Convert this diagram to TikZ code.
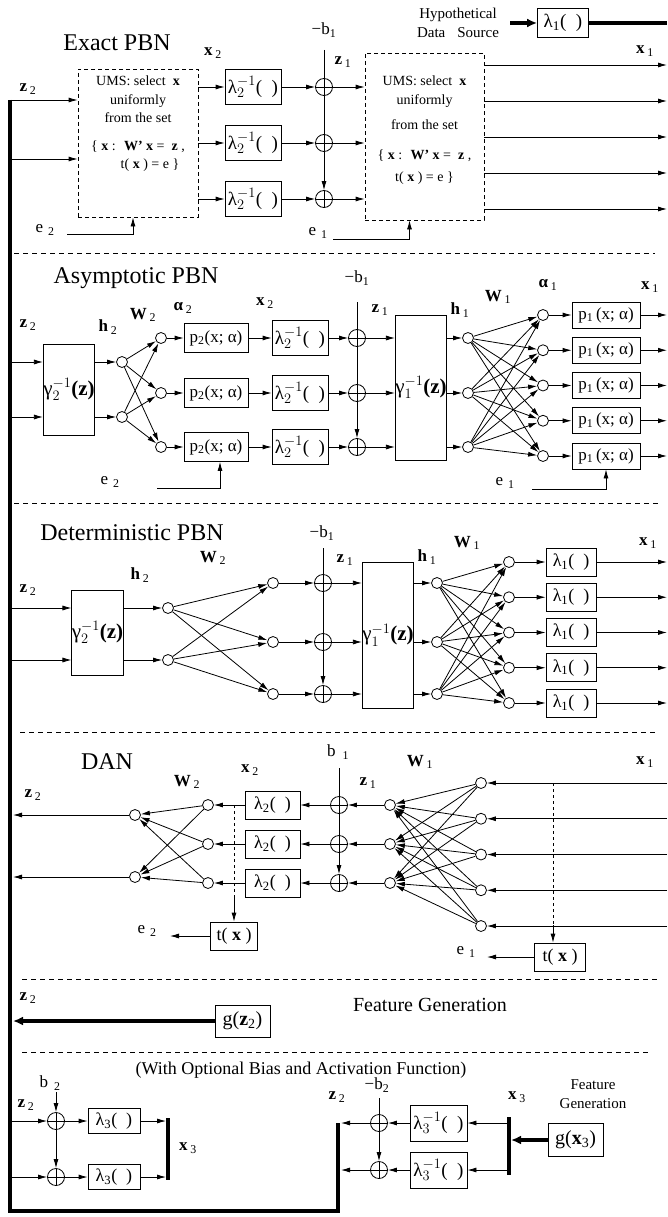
\documentclass[tikz,border=0pt]{standalone}
\usepackage{fontspec}
\setmainfont{Liberation Serif}
\usetikzlibrary{arrows.meta,calc,positioning}
\newcommand\fsz[1]{\fontsize{#1}{#1}\selectfont}
\newcommand\bsub[2]{\textbf{#1}\,\textsubscript{#2}}
\newcommand\inv[2]{$\mbox{#1}^{-1}_{#2}$}
\newcommand\gap[2]{#1\hspace{5pt}\textsubscript{#2}}
\tikzset{
  funcbox/.style={draw,line width=0.8pt,inner sep=0pt,font=\fsz{19}},
  umsbox/.style={draw,line width=0.8pt,dash pattern=on 4pt off 3pt},
  umstext/.style={anchor=north,inner sep=0pt,align=center,font=\fontsize{14}{18.5}\selectfont},
  adder/.style={circle,draw,line width=0.8pt,minimum size=17pt,inner sep=0pt,
    path picture={\draw[line width=0.8pt] (path picture bounding box.west) -- (path picture bounding box.east)
      (path picture bounding box.north) -- (path picture bounding box.south);}},
  unit/.style={circle,draw,line width=0.8pt,minimum size=11pt,inner sep=0pt},
  arrow/.style={-{Latex[length=9pt,width=5pt]},line width=0.8pt},
  heavyarrow/.style={-{Latex[length=10pt,width=9pt]},line width=4pt},
  heavy/.style={line width=4pt},
  bus/.style={line width=4.5pt,line join=miter},
  divider/.style={line width=0.7pt,dash pattern=on 5pt off 4pt},
  ttl/.style={font=\fsz{24}},
  lab/.style={font=\fsz{17}},
  note/.style={align=center,font=\fontsize{15}{19}\selectfont}
}
\begin{document}
\begin{tikzpicture}[x=1pt,y=-1pt,
    lam/.style={funcbox,minimum width=56pt,minimum height=35pt},
    pbox/.style={funcbox,minimum width=64pt,minimum height=29pt,font=\fsz{17}},
    gbox/.style={funcbox,minimum width=46pt,font=\fsz{21}},
    small/.style={funcbox,minimum width=50pt,minimum height=28pt,font=\fsz{18}}
  ]
  \useasboundingbox (0,0) rectangle (667,1217);
  \coordinate (barT) at (10,100);
  \coordinate (barB) at (10,1211);
  \coordinate (barC) at (338,1211);
  \coordinate (barE) at (338,1123);
  \draw[bus] (barT) -- (barB) -- (barC) -- (barE);

  \node[ttl] at (117,43) {Exact PBN};
  \node[lab] at (28,89) {\bsub{z}{2}};
  \node[lab] at (213,53) {\bsub{x}{2}};
  \node[lab] at (324,30) {−b\textsubscript{1}};
  \node[lab] at (343,62) {\bsub{z}{1}};
  \node[lab] at (645,51) {\bsub{x}{1}};
  \node[umsbox,minimum width=120pt,minimum height=148pt] (ums1) at (138,143) {};
  \node[umstext] at (138,76) {UMS: select \ \textbf{x}\\uniformly\\from the set\\[9pt]\{ \textbf{x} : \ \textbf{W’} \textbf{x} = \ \textbf{z} ,\\\hspace*{24pt}t( \textbf{x} ) = e \}};
  \node[umsbox,minimum width=119pt,minimum height=167pt] (ums2) at (424.5,136.5) {};
  \node[umstext] at (424.5,76) {UMS: select \ \textbf{x}\\uniformly\\[7pt]from the set\\[11pt]\{ \textbf{x} : \ \textbf{W’} \textbf{x} = \ \textbf{z} ,\\[4pt]t( \textbf{x} ) = e \}};
  \coordinate (z2a) at (10,100);
  \coordinate (z2b) at (10,159);
  \draw[arrow] (z2a) -- (z2a -| ums1.west);
  \draw[arrow] (z2b) -- (z2b -| ums1.west);
  \foreach \r [count=\i] in {87,143,199} {
    \node[lam] (lt\i) at (253,\r) {\inv{λ}{2}(\ \ )};
    \node[adder] (at\i) at (324,\r) {};
    \draw[arrow] (ums1.east |- lt\i) -- (lt\i);
    \draw[arrow] (lt\i) -- (at\i);
    \draw[arrow] (at\i) -- (at\i -| ums2.west);
  }
  \coordinate (bt) at (324,50);
  \draw[arrow] (bt) -- (at3);
  \foreach \r [count=\k] in {65,101,137,173,209} {
    \coordinate (ot\k) at (667,\r);
    \draw[arrow] (ums2.east |- ot\k) -- (ot\k);
  }
  \node[lab] at (45,230) {\gap{e}{2}};
  \coordinate (e2t) at (67,234);
  \draw[arrow] (e2t) -| ($(ums1.south)+(-5,0)$);
  \node[lab] at (318,233) {\gap{e}{1}};
  \coordinate (e1t) at (333,239);
  \draw[arrow] (e1t) -| ($(ums2.south)+(-15,0)$);
  \node[note] (hyp) at (458,23) {Hypothetical\\Data\hspace{12pt}Source};
  \node[funcbox,minimum width=51pt,minimum height=29pt] (src) at (563,23) {λ\textsubscript{1}(\ \ )};
  \coordinate (hs) at (510,23);
  \coordinate (hout) at (667,23);
  \draw[heavyarrow] (hs) -- (src);
  \draw[heavy] (src) -- (hout);
  \draw[divider] (14,253) -- (655,253);

  \node[ttl] at (136,278) {Asymptotic PBN};
  \node[lab] at (28,325) {\bsub{z}{2}};
  \node[lab] at (108,327) {\bsub{h}{2}};
  \node[lab] at (143,315) {\bsub{W}{2}};
  \node[lab] at (183,308) {\bsub{α}{2}};
  \node[lab] at (265,303) {\bsub{x}{2}};
  \node[lab] at (357,278) {−b\textsubscript{1}};
  \node[lab] at (380,310) {\bsub{z}{1}};
  \node[lab] at (460,310) {\bsub{h}{1}};
  \node[lab] at (498,297) {\bsub{W}{1}};
  \node[lab] at (548,285) {\bsub{α}{1}};
  \node[lab] at (650,287) {\bsub{x}{1}};
  \node[gbox,minimum height=91pt] (ga2) at (69,389.5) {\inv{γ}{2}\textbf{(z)}};
  \node[gbox,minimum height=145pt] (ga1) at (421,387.5) {\inv{γ}{1}\textbf{(z)}};
  \foreach \y [count=\i] in {362,417} {
    \coordinate (za\i) at (10,\y);
    \node[unit] (ha\i) at (122,\y) {};
    \draw[arrow] (za\i) -- (za\i -| ga2.west);
    \draw[arrow] (ga2.east |- ha\i) -- (ha\i);
  }
  \foreach \r [count=\j] in {338,393,447} {
    \node[unit] (wa\j) at (161,\r) {};
    \node[pbox] (pa\j) at (216,\r) {p\textsubscript{2}(x; α)};
    \node[lam] (la\j) at (300,\r) {\inv{λ}{2}(\ \ )};
    \node[adder] (aa\j) at (357,\r) {};
    \node[unit] (hb\j) at (468,\r) {};
    \draw[arrow] (wa\j) -- (pa\j);
    \draw[arrow] (pa\j) -- (la\j);
    \draw[arrow] (la\j) -- (aa\j);
    \draw[arrow] (aa\j) -- (aa\j -| ga1.west);
    \draw[arrow] (ga1.east |- hb\j) -- (hb\j);
    \foreach \i in {1,2} \draw[arrow] (ha\i) -- (wa\j);
  }
  \coordinate (ba) at (357,302);
  \draw[arrow] (ba) -- (aa3);
  \foreach \k in {1,...,5} {
    \pgfmathsetmacro\r{315+35.25*(\k-1)}
    \node[unit] (wb\k) at (543,\r) {};
    \node[pbox,minimum width=68pt,minimum height=26pt] (pb\k) at (606,\r) {p\textsubscript{1}\,(x; α)};
    \coordinate (ob\k) at (667,\r);
    \draw[arrow] (wb\k) -- (pb\k);
    \draw[arrow] (pb\k) -- (ob\k);
    \foreach \j in {1,2,3} \draw[arrow] (hb\j) -- (wb\k);
  }
  \node[lab] at (110,482) {\gap{e}{2}};
  \coordinate (e2a) at (157,488);
  \draw[arrow] (e2a) -| ($(pa3.south)+(4,0)$);
  \node[lab] at (505,483) {\gap{e}{1}};
  \coordinate (e1a) at (532,489);
  \draw[arrow] (e1a) -| (pb5.south);
  \draw[divider] (14,503) -- (658,503);

  \node[ttl] at (132,533) {Deterministic PBN};
  \node[lab] at (322,533) {−b\textsubscript{1}};
  \node[lab] at (213,558) {\bsub{W}{2}};
  \node[lab] at (140,575) {\bsub{h}{2}};
  \node[lab] at (28,590) {\bsub{z}{2}};
  \node[lab] at (345,560) {\bsub{z}{1}};
  \node[lab] at (427,557) {\bsub{h}{1}};
  \node[lab] at (467,543) {\bsub{W}{1}};
  \node[lab] at (648,543) {\bsub{x}{1}};
  \node[gbox,minimum width=47pt,minimum height=85pt] (gd2) at (97.5,632.5) {\inv{γ}{2}\textbf{(z)}};
  \node[gbox,minimum width=48pt,minimum height=146pt] (gd1) at (388,635) {\inv{γ}{1}\textbf{(z)}};
  \foreach \y [count=\i] in {608,660} {
    \coordinate (zd\i) at (10,\y);
    \node[unit] (hd\i) at (168,\y) {};
    \draw[arrow] (zd\i) -- (zd\i -| gd2.west);
    \draw[arrow] (gd2.east |- hd\i) -- (hd\i);
  }
  \foreach \r [count=\j] in {583,642,694} {
    \node[unit] (wd\j) at (273,\r) {};
    \node[adder] (ad\j) at (323,\r) {};
    \node[unit] (he\j) at (437,\r) {};
    \draw[arrow] (wd\j) -- (ad\j);
    \draw[arrow] (ad\j) -- (ad\j -| gd1.west);
    \draw[arrow] (gd1.east |- he\j) -- (he\j);
    \foreach \i in {1,2} \draw[arrow] (hd\i) -- (wd\j);
  }
  \coordinate (bd) at (323,548);
  \draw[arrow] (bd) -- (ad3);
  \foreach \k in {1,...,5} {
    \pgfmathsetmacro\r{562+35.25*(\k-1)}
    \node[unit] (we\k) at (509,\r) {};
    \node[small] (ld\k) at (571,\r) {λ\textsubscript{1}(\ \ )};
    \coordinate (od\k) at (667,\r);
    \draw[arrow] (we\k) -- (ld\k);
    \draw[arrow] (ld\k) -- (od\k);
    \foreach \j in {1,2,3} \draw[arrow] (he\j) -- (we\k);
  }
  \draw[divider] (20,732) -- (655,732);

  \node[ttl] at (107,762) {DAN};
  \node[lab] at (338,752) {b\hspace{7pt}\textsubscript{1}};
  \node[lab] at (187,782) {\bsub{W}{2}};
  \node[lab] at (250,770) {\bsub{x}{2}};
  \node[lab] at (33,795) {\bsub{z}{2}};
  \node[lab] at (420,762) {\bsub{W}{1}};
  \node[lab] at (368,783) {\bsub{z}{1}};
  \node[lab] at (645,762) {\bsub{x}{1}};
  \foreach \r [count=\j] in {805,844,883} {
    \node[adder] (an\j) at (339,\r) {};
    \node[unit] (zn\j) at (390,\r) {};
    \node[small,minimum width=55pt] (ln\j) at (272.5,\r) {λ\textsubscript{2}(\ \ )};
    \node[unit] (cn\j) at (208,\r) {};
    \draw[arrow] (zn\j) -- (an\j);
    \draw[arrow] (an\j) -- (ln\j);
    \draw[arrow] (ln\j) -- (cn\j);
  }
  \coordinate (bn) at (339,768);
  \draw[arrow] (bn) -- (an3);
  \foreach \y [count=\i] in {815,877} {
    \node[unit] (dn\i) at (135,\y) {};
    \coordinate (zo\i) at (13,\y);
    \draw[arrow] (dn\i) -- (zo\i);
    \foreach \j in {1,2,3} \draw[arrow] (cn\j) -- (dn\i);
  }
  \foreach \k in {1,...,5} {
    \pgfmathsetmacro\r{783+35.75*(\k-1)}
    \node[unit] (rn\k) at (481,\r) {};
    \coordinate (xn\k) at (667,\r);
    \draw[arrow] (xn\k) -- (rn\k);
    \foreach \j in {1,2,3} \draw[arrow] (rn\k) -- (zn\j);
  }
  \coordinate (tap2) at (234,805);
  \coordinate (tap2b) at (234,897);
  \node[small,minimum width=47pt] (tx2) at (234,936) {t( \textbf{x} )};
  \draw[dashed] (tap2) -- (tap2b);
  \draw[arrow] (tap2b) -- (tx2);
  \node[lab] at (147,931) {\gap{e}{2}};
  \coordinate (e2n) at (170,936);
  \draw[arrow] (tx2) -- (e2n);
  \coordinate (tap1) at (553,783);
  \coordinate (tap1b) at (553,925);
  \node[small,minimum width=51pt] (tx1) at (560,957) {t( \textbf{x} )};
  \draw[dashed] (tap1) -- (tap1b);
  \draw[arrow] (tap1b) -- (tap1b |- tx1.north);
  \node[lab] at (466,952) {\gap{e}{1}};
  \coordinate (e1n) at (487,957);
  \draw[arrow] (tx1) -- (e1n);
  \draw[divider] (22,979) -- (660,979);

  \node[lab] at (28,998) {\bsub{z}{2}};
  \node[funcbox,minimum width=55pt,minimum height=32pt,font=\fsz{20}] (gz2) at (242.5,1021) {g(\textbf{z}\textsubscript{2})};
  \coordinate (gzo) at (13,1021);
  \draw[heavyarrow] (gz2) -- (gzo);
  \node[font=\fsz{20}] at (430,1005) {Feature Generation};
  \draw[divider] (22,1052) -- (650,1052);

  \node[font=\fsz{18}] at (301,1070) {(With Optional Bias and Activation Function)};
  \node[lab] at (50,1083) {b\hspace{6pt}\textsubscript{2}};
  \node[lab] at (26,1105) {\bsub{z}{2}};
  \foreach \r [count=\j] in {1121,1177} {
    \coordinate (zc\j) at (10,\r);
    \node[adder] (ab\j) at (56,\r) {};
    \node[small,minimum width=52pt,minimum height=25pt] (lc\j) at (114,\r) {λ\textsubscript{3}(\ \ )};
    \coordinate (xc\j) at (166,\r);
    \draw[arrow] (zc\j) -- (ab\j);
    \draw[arrow] (ab\j) -- (lc\j);
    \draw[arrow] (lc\j) -- (xc\j);
  }
  \coordinate (bb) at (56,1092);
  \draw[arrow] (bb) -- (ab1);
  \draw[arrow] (ab1) -- (ab2);
  \draw[heavy] (168,1118) -- (168,1180);
  \node[lab] at (188,1148) {\bsub{x}{3}};
  \node[lab] at (337,1097) {\bsub{z}{2}};
  \node[lab] at (377,1085) {−b\textsubscript{2}};
  \foreach \r [count=\j] in {1123,1170} {
    \node[adder] (ac\j) at (379,\r) {};
    \node[lam,minimum width=57pt,minimum height=36pt] (li\j) at (438.5,\r) {\inv{λ}{3}(\ \ )};
    \coordinate (zr\j) at (341,\r);
    \coordinate (xr\j) at (507,\r);
    \draw[arrow] (ac\j) -- (zr\j);
    \draw[arrow] (li\j) -- (ac\j);
    \draw[arrow] (xr\j) -- (li\j);
  }
  \coordinate (bc) at (379,1098);
  \draw[arrow] (bc) -- (ac2);
  \draw[heavy] (509,1117) -- (509,1175);
  \node[lab] at (517,1097) {\bsub{x}{3}};
  \node[note] at (593,1094) {Feature\\Generation};
  \node[funcbox,minimum width=55pt,minimum height=33pt,font=\fsz{20}] (gx3) at (575.5,1140) {g(\textbf{x}\textsubscript{3})};
  \coordinate (gxo) at (511,1140);
  \draw[heavyarrow] (gx3) -- (gxo);
\end{tikzpicture}
\end{document}
